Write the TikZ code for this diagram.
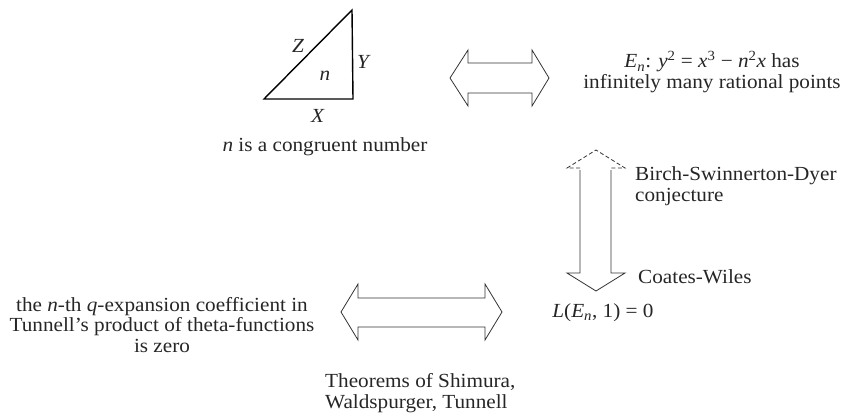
\documentclass[tikz,border=0pt]{standalone}
\usepackage{fontspec}
\setmainfont{Liberation Serif}[FakeStretch=1.06]
\newcommand\txtsz{\fontsize{20}{20.5}\selectfont}
\newcommand\subn{\textsubscript{\textit{n}}}
\begin{document}
\begin{tikzpicture}[x=1pt,y=-1pt,
  lbl/.style={font=\txtsz, inner sep=0pt, text=black!85},
  blockarrow/.style={draw=black!80, line width=0.8pt, line join=miter},
  tri/.style={draw=black, line width=1.4pt, line join=miter}]
\useasboundingbox (0,0) rectangle (855,416);

% triangle
\coordinate (A) at (264,99);
\coordinate (B) at (353,99);
\coordinate (C) at (352,10);
\draw[tri] (A) -- (B) -- (C) -- cycle;
\node[lbl] (lz) at (298,46) {\textit{Z}};
\node[lbl] (ln) at (325,76) {\textit{n}};
\node[lbl] (ly) at (364,62) {\textit{Y}};
\node[lbl] (lx) at (318,116) {\textit{X}};
\node[lbl] (cong) at (325,147) {\textit{n} is a congruent number};

% top double arrow
\coordinate (t1) at (450,78);
\coordinate (t2) at (549,78);
\draw[blockarrow] (t1) -- (468,50) -- (468,63) -- (532,63) -- (532,50) -- (t2)
  -- (532,106) -- (532,93) -- (468,93) -- (468,106) -- cycle;

\node[lbl, align=center] (ell) at (712,72)
  {\textit{E}\subn: \textit{y}\textsuperscript{2} = \textit{x}\textsuperscript{3} − \textit{n}\textsuperscript{2}\textit{x} has\\infinitely many rational points};

% vertical arrow
\coordinate (vtop) at (596,150);
\coordinate (vbot) at (596,291);
\draw[blockarrow, dashed, dash pattern=on 4pt off 2.5pt] (580,168) -- (567,168) -- (vtop) -- (625,168) -- (611,168);
\draw[blockarrow] (580,170) -- (580,273) -- (567,273) -- (vbot) -- (625,273) -- (611,273) -- (611,170);

\node[lbl, align=left, anchor=west] (bsd) at (635,186) {Birch-Swinnerton-Dyer\\conjecture};
\node[lbl, anchor=west] (cw) at (638,277) {Coates-Wiles};

\node[lbl] (lfun) at (603,313) {\textit{L}(\textit{E}\subn, 1) = 0};

% bottom double arrow
\coordinate (b1) at (341,312);
\coordinate (b2) at (502,312);
\draw[blockarrow] (b1) -- (358,284) -- (358,298) -- (485,298) -- (485,284) -- (b2)
  -- (485,340) -- (485,327) -- (358,327) -- (358,340) -- cycle;

\node[lbl, align=center] (theta) at (162,325)
  {the \textit{n}-th \textit{q}-expansion coefficient in\\Tunnell’s product of theta-functions\\is zero};
\node[lbl, align=left, anchor=west] (thm) at (325,393) {Theorems of Shimura,\\Waldspurger, Tunnell};
\end{tikzpicture}
\end{document}
